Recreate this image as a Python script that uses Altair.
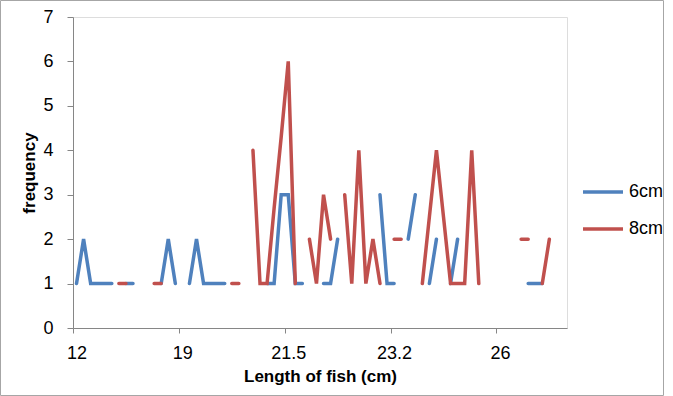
import altair as alt
import pandas as pd

# ---- data ----
series_names = ["6cm", "8cm"]
n_categories = 70
length_labels = ["12", "19", "21.5", "23.2", "26"]
label_categories = [0, 15, 30, 45, 60]

freq_6cm = [1, 2, 1, 1, 1, 1, None, 1, 1, None,
            None, None, 1, 2, 1, None, 1, 2, 1, 1,
            1, 1, None, None, None, None, None, 1, 1, 3,
            3, 1, 1, None, None, 1, 1, 2, None, None,
            None, None, None, 3, 1, 1, None, 2, 3, None,
            1, 2, None, 1, 2, None, None, None, None, None,
            None, None, None, None, 1, 1, 1, None, None, None]

freq_8cm = [None, None, None, None, None, None, 1, 1, None, None,
            None, 1, 1, None, None, None, None, None, None, None,
            None, None, 1, 1, None, 4, 1, 1, 2.7, 4.3,
            6, 1, None, 2, 1, 3, 2, None, 3, 1,
            4, 1, 2, 1, None, 2, 2, None, None, 1,
            2.5, 4, 2.5, 1, 1, 1, 4, 1, None, None,
            None, None, None, 2, 2, None, 1, 2, None, None]

colors = ["#4F81BD", "#C0504D"]

rows = []
for name, vals in zip(series_names, [freq_6cm, freq_8cm]):
    for i, v in enumerate(vals):
        rows.append({"category": i, "series": name, "freq": v})
df = pd.DataFrame(rows)

tick_values = [c - 0.5 for c in label_categories]
label_expr = "''"
for tv, lab in reversed(list(zip(tick_values, length_labels))):
    label_expr = f"datum.value == {tv} ? '{lab}' : ({label_expr})"

FONT = "Liberation Sans"
AXIS_GRAY = "#868686"

lines = alt.Chart(df).mark_line(
    strokeWidth=3.5, strokeCap="round", invalid="break-paths-show-domains"
).encode(
    x=alt.X(
        "category:Q",
        scale=alt.Scale(domain=[-0.5, n_categories - 0.5], nice=False, zero=False),
        axis=alt.Axis(
            values=tick_values, labelExpr=label_expr, labelOffset=3.5,
            grid=False, tickSize=5, labelFlush=False, labelOverlap=False,
            domainColor=AXIS_GRAY, tickColor=AXIS_GRAY,
            labelFontSize=18, labelPadding=11, labelColor="black",
            title="Length of fish (cm)", titleFontSize=17, titleFontWeight="bold",
            titlePadding=6, titleColor="black",
        ),
    ),
    y=alt.Y(
        "freq:Q",
        scale=alt.Scale(domain=[0, 7], nice=False),
        axis=alt.Axis(
            values=list(range(8)), grid=False, tickSize=6, labelFlush=False,
            domainColor=AXIS_GRAY, tickColor=AXIS_GRAY,
            labelFontSize=18, labelPadding=14, labelColor="black",
            title="frequency", titleFontSize=17, titleFontWeight="bold",
            titlePadding=4, titleColor="black",
        ),
    ),
    color=alt.Color(
        "series:N",
        scale=alt.Scale(domain=series_names, range=colors),
        legend=alt.Legend(
            title=None, orient="none", legendX=518, legendY=163,
            symbolType="M-2,0L2,0", symbolSize=400, symbolStrokeWidth=3.5,
            labelFontSize=18, labelFont=FONT, labelOffset=14, rowPadding=16,
            padding=0, labelColor="black",
        ),
    ),
)

border = alt.Chart(pd.DataFrame({"k": [0]})).mark_rect(
    fillOpacity=0, stroke="#A6A6A6", strokeWidth=1
).encode(
    x=alt.value(-72.5), x2=alt.value(590.5), y=alt.value(-16.5), y2=alt.value(378.5)
)

chart = alt.layer(border, lines).properties(
    width=494, height=311,
    autosize=alt.AutoSizeParams(type="none"),
    padding={"left": 73, "top": 17, "right": 106, "bottom": 68},
    background="white",
).configure_view(stroke=None).configure(font=FONT)

chart.save("out.html", embed_options={"renderer": "svg", "actions": False})
